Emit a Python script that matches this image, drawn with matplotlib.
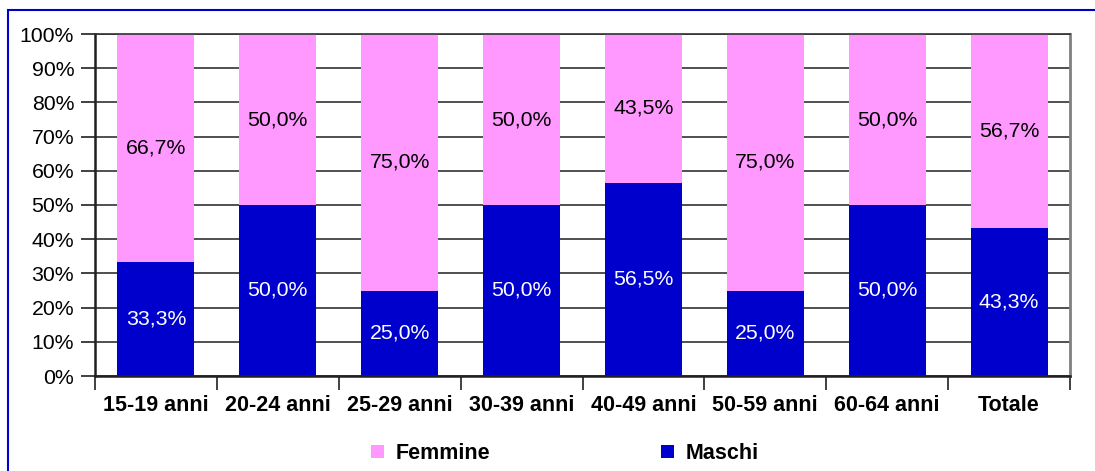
import matplotlib
matplotlib.use("Agg")
import matplotlib.pyplot as plt
from matplotlib.patches import Rectangle
import numpy as np

categories = ["15-19 anni", "20-24 anni", "25-29 anni", "30-39 anni",
              "40-49 anni", "50-59 anni", "60-64 anni", "Totale"]
maschi = [33.3, 50.0, 25.0, 50.0, 56.5, 25.0, 50.0, 43.3]
femmine = [66.7, 50.0, 75.0, 50.0, 43.5, 75.0, 50.0, 56.7]
yticks = [0, 10, 20, 30, 40, 50, 60, 70, 80, 90, 100]

plt.rcParams['font.family'] = ['Liberation Sans', 'DejaVu Sans']

W, H = 1095, 471
fig = plt.figure(figsize=(W / 100, H / 100), dpi=100)

# outer blue frame (right and bottom edges fall outside the picture)
fig.patches.append(Rectangle((8 / W, -0.01), 1.05, (H - 10) / H + 0.01,
                             transform=fig.transFigure, fill=False,
                             edgecolor='#0000CC', linewidth=1.5))

ax = fig.add_axes([95 / W, (H - 376) / H, (1070 - 95) / W, (376 - 34) / H])

x = np.arange(len(categories))
bw = 0.632
ax.bar(x, maschi, width=bw, color='#0000CC', zorder=3, label='Maschi')
ax.bar(x, femmine, width=bw, bottom=maschi, color='#FF99FF', zorder=3, label='Femmine')

for i in range(len(categories)):
    m, f = maschi[i], femmine[i]
    ax.text(x[i], m / 2, f"{m:.1f}%".replace('.', ','), ha='center', va='center',
            color='white', fontsize=15.3, zorder=4)
    ax.text(x[i], m + f / 2, f"{f:.1f}%".replace('.', ','), ha='center', va='center',
            color='black', fontsize=15.3, zorder=4)

ax.set_xlim(-0.5, len(categories) - 0.5)
ax.set_ylim(0, 100)
ax.set_yticks(yticks)
ax.set_yticklabels([f"{v}%" for v in yticks], fontsize=15.3)
ax.yaxis.grid(True, color='#202020', linewidth=1.1, zorder=1)

ax.set_xticks(x)
ax.set_xticklabels(categories, fontsize=15.5, fontweight='bold')
ax.tick_params(axis='x', length=0, pad=14)
ax.set_xticks(np.arange(-0.5, len(categories)), minor=True)
ax.tick_params(axis='x', which='minor', length=10, width=1.2, color='#202020', direction='out')
ax.tick_params(axis='y', length=10, width=1.2, color='#202020', direction='out', pad=5)

for s in ['left', 'bottom']:
    ax.spines[s].set_color('#202020')
    ax.spines[s].set_linewidth(1.8)
ax.spines['top'].set_color('#303030')
ax.spines['top'].set_linewidth(1.2)
ax.spines['right'].set_color('#808080')
ax.spines['right'].set_linewidth(2)
for s in ax.spines.values():
    s.set_zorder(5)

handles, labels = ax.get_legend_handles_labels()
leg = fig.legend(handles[::-1], labels[::-1], loc='center', ncol=2,
                 bbox_to_anchor=(0.516, (H - 453.5) / H), frameon=False,
                 prop={'weight': 'bold', 'size': 15.5},
                 handlelength=0.6, handleheight=0.6, handletextpad=0.55,
                 columnspacing=7.9)

fig.savefig("out.png", dpi=100)
